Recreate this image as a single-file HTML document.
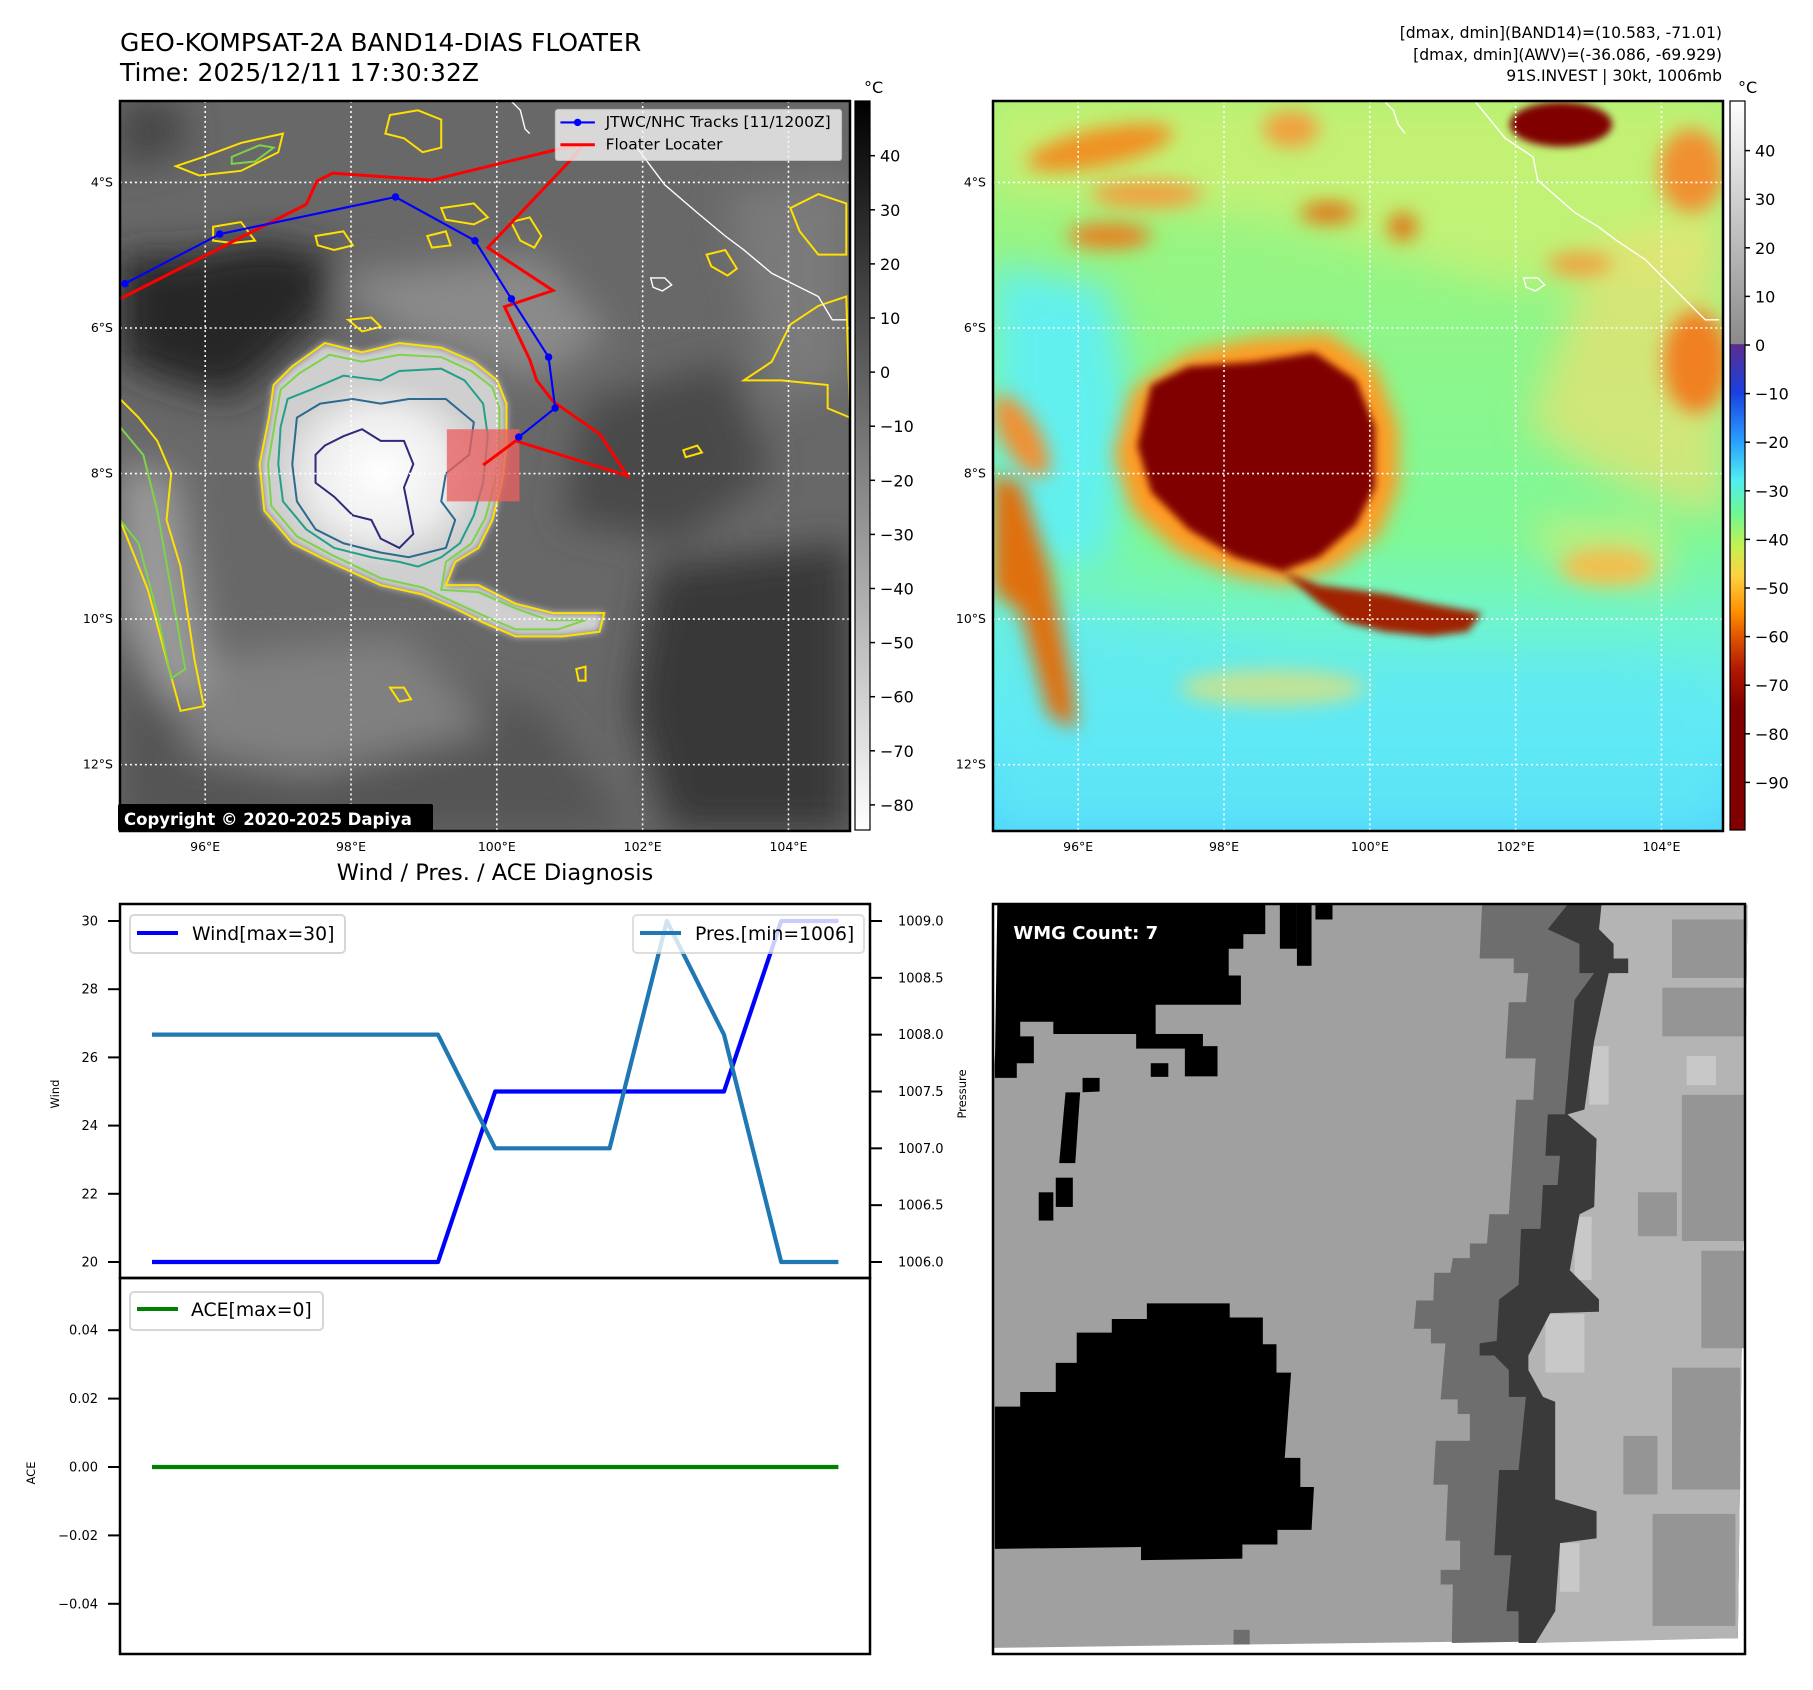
<!DOCTYPE html>
<html><head><meta charset="utf-8">
<style>
html,body{margin:0;padding:0;background:#fff;}
svg{display:block;font-family:"DejaVu Sans","Liberation Sans",sans-serif;}
</style></head>
<body>
<svg id="fig" width="1813" height="1690" viewBox="0 0 1813 1690" xmlns="http://www.w3.org/2000/svg">
<defs>
  <filter id="blur8" x="-20%" y="-20%" width="140%" height="140%"><feGaussianBlur stdDeviation="8"/></filter>
  <filter id="blur20" x="-30%" y="-30%" width="160%" height="160%"><feGaussianBlur stdDeviation="20"/></filter>
  <filter id="blur40" x="-40%" y="-40%" width="180%" height="180%"><feGaussianBlur stdDeviation="40"/></filter>
  <clipPath id="clipMap"><rect x="0" y="0" width="1568" height="1568"/></clipPath>
  <radialGradient id="stormGrad" cx="0.5" cy="0.5" r="0.5">
    <stop offset="0" stop-color="#ffffff"/><stop offset="0.6" stop-color="#eeeeee"/><stop offset="1" stop-color="#cfcfcf"/>
  </radialGradient>
  <linearGradient id="cb1" x1="0" y1="0" x2="0" y2="1">
    <stop offset="0" stop-color="#000"/><stop offset="1" stop-color="#fff"/>
  </linearGradient>
  <linearGradient id="cb2" x1="0" y1="0" x2="0" y2="1">
    <stop offset="0" stop-color="#ffffff"/><stop offset="0.333" stop-color="#8a8a8a"/>
    <stop offset="0.334" stop-color="#5a2d8e"/><stop offset="0.4" stop-color="#1a40e0"/>
    <stop offset="0.467" stop-color="#2aa0ff"/><stop offset="0.52" stop-color="#50eef0"/>
    <stop offset="0.567" stop-color="#70f890"/><stop offset="0.613" stop-color="#c8f050"/>
    <stop offset="0.653" stop-color="#ffd040"/><stop offset="0.7" stop-color="#ff9000"/>
    <stop offset="0.733" stop-color="#e05800"/><stop offset="0.78" stop-color="#b01800"/>
    <stop offset="0.833" stop-color="#800000"/><stop offset="1" stop-color="#800000"/>
  </linearGradient>
  <linearGradient id="rmBase" x1="0" y1="0" x2="0" y2="1">
    <stop offset="0" stop-color="#a8f278"/><stop offset="0.3" stop-color="#90f688"/>
    <stop offset="0.6" stop-color="#7ef898"/><stop offset="0.72" stop-color="#6ef4d0"/>
    <stop offset="0.85" stop-color="#62ecf6"/><stop offset="1" stop-color="#50d2ff"/>
  </linearGradient>
</defs>

<text x="120" y="51" font-size="25">GEO-KOMPSAT-2A BAND14-DIAS FLOATER</text>
<text x="120" y="81" font-size="25">Time: 2025/12/11 17:30:32Z</text>
<g font-size="15.6" text-anchor="end">
  <text x="1722" y="38">[dmax, dmin](BAND14)=(10.583, -71.01)</text>
  <text x="1722" y="60">[dmax, dmin](AWV)=(-36.086, -69.929)</text>
  <text x="1722" y="81">91S.INVEST | 30kt, 1006mb</text>
</g>

<!-- ============ LEFT MAP ============ -->
<g transform="translate(120,101) scale(0.46556)">
 <g clip-path="url(#clipMap)">
  <rect x="0" y="0" width="1568" height="1568" fill="#686868"/>
  <g filter="url(#blur40)">
    <polygon fill="#262626" points="0,330 150,330 320,300 470,340 430,470 330,560 240,640 100,600 0,560"/>
    <polygon fill="#383838" points="1150,1000 1568,950 1568,1568 1180,1568 1100,1300"/>
    <polygon fill="#444" points="0,0 120,0 150,100 0,150"/>
    <polygon fill="#4a4a4a" points="1000,650 1300,560 1400,800 1200,950 950,900"/>
    <polygon fill="#555" points="0,1150 500,1200 900,1300 1100,1568 0,1568"/>
    <polygon fill="#8a8a8a" points="450,380 900,330 1050,500 900,600 600,500"/>
    <polygon fill="#808080" points="100,1200 600,1150 800,1350 400,1450 150,1400"/>
    <polygon fill="#7a7a7a" points="1300,200 1568,150 1568,600 1400,650"/>
    <polygon fill="#9a9a9a" points="0,780 120,800 200,1250 100,1300 0,1100"/>
  </g>
  <polygon fill="#cfcfcf" filter="url(#blur8)" points="330,610 370,570 440,520 520,540 600,520 690,530 760,560 810,600 830,650 830,740 820,820 800,900 770,960 720,990 700,1040 770,1040 850,1080 930,1100 1040,1100 1030,1140 950,1150 850,1150 780,1120 720,1090 650,1060 560,1040 450,990 370,950 310,880 300,780 320,680"/>
  <ellipse cx="560" cy="800" rx="225" ry="200" fill="url(#stormGrad)" filter="url(#blur8)"/>
  <g fill="none" stroke-width="4.3">
    <polygon stroke="#ffe000" points="330,610 370,570 440,520 520,540 600,520 690,530 760,560 810,600 830,650 830,740 820,820 800,900 770,960 720,990 700,1040 770,1040 850,1080 930,1100 1040,1100 1030,1140 950,1150 850,1150 780,1120 720,1090 650,1060 560,1040 450,990 370,950 310,880 300,780 320,680"/>
    <polygon stroke="#7ed34a" points="345,620 385,585 450,545 520,560 600,545 690,550 755,580 800,615 815,660 815,740 805,820 785,895 755,950 700,990 690,1050 770,1055 850,1090 920,1115 1000,1115 940,1135 850,1135 780,1105 715,1075 650,1045 560,1025 455,975 380,935 325,870 318,780 333,690"/>
    <polygon stroke="#22a08a" points="360,640 410,620 480,590 560,600 600,580 690,575 740,600 780,650 790,720 780,820 760,890 730,950 690,980 640,1000 600,990 540,980 460,960 400,920 350,860 340,780 345,700"/>
    <polygon stroke="#2c6a8e" points="380,680 430,650 500,640 560,650 620,640 700,640 760,690 750,760 700,800 690,860 720,900 700,960 620,980 560,970 480,950 420,920 380,860 370,780"/>
    <polygon stroke="#2d2a7a" points="420,760 440,740 480,720 520,705 560,730 610,730 630,780 610,830 620,880 630,930 600,960 560,940 540,900 500,890 460,850 420,820"/>
    <polygon stroke="#ffe000" points="0,640 40,680 80,730 110,800 100,900 130,1000 160,1200 180,1300 130,1310 100,1200 60,1050 20,950 0,900"/>
    <polygon stroke="#7ed34a" points="0,700 50,760 80,880 110,1050 140,1220 110,1240 80,1100 40,950 0,900"/>
    <polygon stroke="#ffe000" points="1340,600 1400,560 1440,480 1500,440 1560,420 1568,680 1520,660 1520,610 1420,600"/>
    <polygon stroke="#ffe000" points="180,120 260,90 350,70 340,110 260,150 170,160 120,140"/>
    <polygon stroke="#7ed34a" points="240,120 300,95 330,100 290,130 240,135"/>
    <polygon stroke="#ffe000" points="580,30 640,20 690,40 690,100 650,110 610,80 570,70"/>
    <polygon stroke="#ffe000" points="840,260 880,250 905,290 890,315 860,300"/>
    <polygon stroke="#ffe000" points="690,230 760,220 790,250 760,265 700,255"/>
    <polygon stroke="#ffe000" points="1260,330 1300,320 1325,360 1305,375 1270,355"/>
    <polygon stroke="#ffe000" points="420,290 480,280 500,310 460,320 425,310"/>
    <polygon stroke="#ffe000" points="660,290 700,280 710,310 670,315"/>
    <polygon stroke="#ffe000" points="200,270 260,260 290,300 240,305 200,300"/>
    <polygon stroke="#ffe000" points="1440,230 1500,200 1560,220 1560,330 1500,330 1460,280"/>
    <polygon stroke="#ffe000" points="1210,750 1240,740 1250,755 1215,765"/>
    <polygon stroke="#ffe000" points="580,1260 610,1260 625,1285 600,1290"/>
    <polygon stroke="#ffe000" points="980,1220 1000,1215 1000,1245 985,1245"/>
    <polygon stroke="#ffe000" points="490,470 540,465 560,485 520,495"/>
  </g>
  <polyline fill="none" stroke="#fff" stroke-width="3" points="1110,100 1170,180 1240,240 1300,290 1340,320 1400,370 1440,390 1500,420 1530,470 1560,470"/>
  <polyline fill="none" stroke="#fff" stroke-width="3" points="840,0 860,20 870,60 880,70"/>
  <polygon fill="none" stroke="#fff" stroke-width="3" points="1140,380 1170,380 1185,395 1165,408 1145,400"/>
  <g id="gridL" stroke="#fff" stroke-width="3.4" stroke-dasharray="4.3,6.4"></g>
  <rect x="702" y="705" width="156" height="155" fill="#e86060" opacity="0.78"/>
  <polyline fill="none" stroke="#ff0000" stroke-width="6.4" points="0,425 400,222 423,172 457,155 670,170 935,105 995,95 965,130 790,315 930,407 826,442 880,555 895,600 930,645 1030,715 1090,805 850,730 780,782"/>
  <g id="trackL"></g>
  <g>
    <rect x="935" y="18" width="615" height="110" rx="6" fill="#f4f4f4" opacity="0.8" stroke="#d0d0d0" stroke-width="2"/>
    <line x1="946" y1="46" x2="1020" y2="46" stroke="#0000ff" stroke-width="4.5"/>
    <circle cx="983" cy="46" r="8" fill="#0000ff"/>
    <text x="1043" y="56" font-size="33.3">JTWC/NHC Tracks [11/1200Z]</text>
    <line x1="946" y1="94" x2="1020" y2="94" stroke="#ff0000" stroke-width="6.4"/>
    <text x="1043" y="104" font-size="33.3">Floater Locater</text>
  </g>
 </g>
</g>
<rect x="120" y="101" width="730" height="730" fill="none" stroke="#000" stroke-width="2.5"/>
<g>
  <rect x="118" y="804" width="315" height="27" rx="2" fill="#000"/>
  <text x="124" y="825" font-size="16.5" font-weight="bold" fill="#fff">Copyright © 2020-2025 Dapiya</text>
</g>

<!-- ============ RIGHT MAP ============ -->
<g transform="translate(993,101) scale(0.46556)">
 <g clip-path="url(#clipMap)">
  <rect x="0" y="0" width="1568" height="1568" fill="url(#rmBase)"/>
  <g filter="url(#blur40)">
    <polygon fill="#62f0ee" points="0,350 250,400 300,700 250,1000 0,1000"/>
    <polygon fill="#d8f070" opacity="0.6" points="0,0 1568,0 1568,350 1100,400 600,250 0,200"/>
    <polygon fill="#f0e070" opacity="0.7" points="1300,300 1568,250 1568,900 1300,800 1150,700"/>
    <polygon fill="#60e8f4" opacity="0.7" points="0,1050 700,1200 1400,1200 1568,1250 1568,1568 0,1568"/>
    <polygon fill="#e8e870" opacity="0.6" points="1150,900 1450,900 1450,1050 1200,1000"/>
  </g>
  <g filter="url(#blur20)">
    <ellipse cx="230" cy="100" rx="160" ry="40" fill="#f09020" transform="rotate(-12 230 100)"/>
    <ellipse cx="330" cy="200" rx="120" ry="30" fill="#f0a040"/>
    <ellipse cx="250" cy="290" rx="90" ry="28" fill="#e88020"/>
    <ellipse cx="720" cy="240" rx="60" ry="22" fill="#e07010"/>
    <ellipse cx="880" cy="270" rx="30" ry="30" fill="#e07010"/>
    <ellipse cx="640" cy="60" rx="60" ry="40" fill="#f0a040"/>
    <ellipse cx="1500" cy="150" rx="70" ry="90" fill="#f09030"/>
    <ellipse cx="1510" cy="560" rx="70" ry="110" fill="#f08020"/>
    <ellipse cx="1260" cy="350" rx="70" ry="25" fill="#f0a040"/>
    <polygon fill="#e07010" points="0,800 60,820 120,1000 170,1250 180,1350 120,1320 60,1100 0,1050"/>
    <ellipse cx="60" cy="720" rx="40" ry="100" fill="#f09030" transform="rotate(-30 60 720)"/>
    <ellipse cx="600" cy="1260" rx="200" ry="40" fill="#e8e070" opacity="0.7"/>
    <ellipse cx="1320" cy="1000" rx="100" ry="40" fill="#f0c050"/>
    <polygon fill="#ff9a20" points="300,620 420,540 560,510 720,500 820,570 870,700 870,830 830,930 740,1000 640,1040 520,1020 400,970 300,880 260,760"/>
  </g>
  <g filter="url(#blur8)">
    <polygon fill="#800000" points="340,610 420,570 560,560 690,540 780,600 820,700 820,830 780,910 700,980 620,1010 520,980 420,920 340,840 310,740"/>
    <polygon fill="#a02000" points="620,1010 700,1040 780,1050 850,1060 940,1080 1050,1100 1020,1140 940,1150 840,1140 760,1120 700,1080"/>
    <ellipse cx="1220" cy="50" rx="110" ry="48" fill="#800000"/>
  </g>
  <polyline fill="none" stroke="#fff" stroke-width="3" points="1035,0 1100,80 1160,120 1170,170 1250,240 1300,270 1340,300 1400,340 1440,380 1470,410 1500,440 1530,470 1560,470"/>
  <polyline fill="none" stroke="#fff" stroke-width="3" points="840,0 860,20 870,50 885,70"/>
  <polygon fill="none" stroke="#fff" stroke-width="3" points="1140,380 1170,380 1185,395 1165,408 1145,400"/>
  <g id="gridR" stroke="#fff" stroke-width="3.4" stroke-dasharray="4.3,6.4"></g>
 </g>
</g>
<rect x="993" y="101" width="730" height="730" fill="none" stroke="#000" stroke-width="2.5"/>

<rect x="855" y="101" width="15" height="729" fill="url(#cb1)" stroke="#000" stroke-width="1.2"/>
<rect x="1730" y="101" width="15" height="729" fill="url(#cb2)" stroke="#000" stroke-width="1.2"/>
<text x="864" y="93" font-size="16">°C</text>
<text x="1738" y="93" font-size="16">°C</text>
<g id="cbTicks" font-size="16"></g>
<g id="mapTicks" font-size="12.5"></g>

<text x="495" y="880" font-size="22.5" text-anchor="middle">Wind / Pres. / ACE Diagnosis</text>
<g id="chart"></g>
<rect x="120" y="904" width="750" height="374" fill="none" stroke="#000" stroke-width="2.5"/>
<rect x="120" y="1278" width="750" height="376" fill="none" stroke="#000" stroke-width="2.5"/>
<text transform="translate(59,1094) rotate(-90)" font-size="11.5" text-anchor="middle">Wind</text>
<text transform="translate(35,1473) rotate(-90)" font-size="11.5" text-anchor="middle">ACE</text>
<text transform="translate(966,1094) rotate(-90)" font-size="11.5" text-anchor="middle">Pressure</text>

<g>
  <rect x="130" y="915" width="215" height="38" rx="4" fill="#fff" stroke="#d6d6d6" stroke-width="2"/>
  <line x1="137" y1="933" x2="178" y2="933" stroke="#0000ff" stroke-width="4"/>
  <text x="192" y="940" font-size="18.8">Wind[max=30]</text>
</g>
<g>
  <rect x="633" y="915" width="231" height="38" rx="4" fill="#fff" stroke="#d6d6d6" stroke-width="2" opacity="0.8"/>
  <line x1="640" y1="933" x2="681" y2="933" stroke="#1f77b4" stroke-width="4"/>
  <text x="695" y="940" font-size="18.8">Pres.[min=1006]</text>
</g>
<g>
  <rect x="130" y="1292" width="193" height="38" rx="4" fill="#fff" stroke="#d6d6d6" stroke-width="2"/>
  <line x1="137" y1="1309" x2="178" y2="1309" stroke="#008000" stroke-width="4"/>
  <text x="191" y="1316" font-size="18.8">ACE[max=0]</text>
</g>

<!-- ============ WMG PANEL ============ -->
<g transform="translate(990,900) scale(0.48718)">
  <rect x="8" y="8" width="1547" height="1547" fill="#fff"/>
  <polygon fill="#a0a0a0" points="40,10 1555,10 1535,1515 8,1535 8,340"/>
  <polygon fill="#6e6e6e" points="1010,10 1555,10 1535,1515 948,1525 950,1405 925,1405 925,1375 965,1375 965,1315 935,1315 940,1200 910,1200 915,1110 985,1110 985,1055 960,1055 960,1025 925,1025 935,910 905,910 905,880 870,880 875,822 910,822 912,765 945,765 950,735 985,735 985,705 1020,705 1025,645 1065,645 1080,410 1115,410 1120,325 1058,325 1065,210 1100,210 1105,150 1075,150 1075,120 1005,120"/>
  <polygon fill="#b4b4b4" points="1255,10 1555,10 1535,1515 1120,1525 1160,1460 1170,1320 1245,1310 1245,1255 1160,1230 1160,1030 1135,1020 1105,965 1105,935 1150,848 1250,845 1250,820 1190,760 1210,645 1240,630 1245,490 1215,465 1185,440 1220,430 1240,290 1270,150 1280,90 1250,60"/>
  <g fill="#959595">
    <rect x="1400" y="40" width="150" height="120"/><rect x="1380" y="180" width="170" height="100"/>
    <rect x="1420" y="400" width="130" height="300"/><rect x="1460" y="720" width="90" height="200"/>
    <rect x="1400" y="960" width="140" height="250"/><rect x="1360" y="1260" width="170" height="230"/>
    <rect x="1330" y="600" width="80" height="90"/><rect x="1300" y="1100" width="70" height="120"/>
  </g>
  <g fill="#c8c8c8">
    <rect x="1230" y="300" width="40" height="120"/><rect x="1200" y="650" width="35" height="130"/>
    <rect x="1140" y="850" width="80" height="120"/><rect x="1170" y="1320" width="40" height="100"/>
    <rect x="1430" y="320" width="60" height="60"/>
  </g>
  <polygon fill="#3a3a3a" points="1185,10 1255,10 1250,60 1280,90 1280,120 1310,120 1310,150 1270,150 1240,290 1220,430 1185,440 1215,465 1245,490 1240,630 1210,645 1190,760 1220,790 1250,820 1250,845 1150,848 1105,935 1105,965 1135,1020 1160,1030 1160,1230 1245,1255 1245,1310 1170,1320 1160,1460 1120,1525 1085,1525 1085,1460 1060,1460 1070,1345 1035,1345 1045,1170 1085,1170 1100,1020 1065,1020 1065,965 1035,935 1005,935 1005,910 1040,905 1045,820 1085,790 1090,675 1130,675 1135,585 1165,585 1170,525 1140,525 1145,440 1180,440 1200,205 1240,150 1210,150 1210,90 1145,60"/>
  <polygon fill="#000" points="15,10 565,10 565,70 520,70 520,100 490,100 490,155 515,155 515,215 340,215 340,275 130,275 130,250 62,250 62,280 90,280 90,335 55,335 55,365 10,365 10,340"/>
  <g fill="#000">
    <rect x="595" y="10" width="35" height="90"/><rect x="630" y="10" width="30" height="125"/><rect x="668" y="10" width="35" height="30"/>
    <rect x="300" y="275" width="137" height="30"/><rect x="400" y="300" width="67" height="62"/><rect x="330" y="335" width="36" height="28"/>
    <polygon points="155,395 190,395 190,365 225,365 225,393 185,395 175,540 142,540"/>
    <rect x="135" y="570" width="35" height="60"/><rect x="100" y="600" width="30" height="58"/>
  </g>
  <polygon fill="#000" points="10,1040 62,1040 62,1010 135,1010 135,950 178,950 178,888 250,888 250,860 322,860 322,828 492,828 492,857 560,857 560,912 588,912 588,970 618,970 605,1145 637,1145 637,1205 665,1205 660,1293 590,1293 590,1323 518,1323 518,1352 310,1355 310,1328 10,1332"/>
  <rect x="500" y="1498" width="33" height="30" fill="#6e6e6e"/>
  <rect x="35" y="20" width="330" height="80" rx="8" fill="#000"/>
  <text x="48" y="80" font-size="37" font-weight="bold" fill="#fff">WMG Count: 7</text>
</g>
<rect x="993" y="904" width="752" height="750" fill="none" stroke="#000" stroke-width="2.5"/>

<script>
const timeIndex = [0,1,2,3,4,5,6,7,8,9,10,11,12];
const windValues = [20,20,20,20,20,20,25,25,25,25,25,30,30];
const pressureValues = [1008,1008,1008,1008,1008,1008,1007,1007,1007,1009,1008,1006,1006];
const aceValues = [0,0,0,0,0,0,0,0,0,0,0,0,0];
const windTicks = [20,22,24,26,28,30];
const pressureTicks = [1006.0,1006.5,1007.0,1007.5,1008.0,1008.5,1009.0];
const aceTicks = [-0.04,-0.02,0.00,0.02,0.04];
const irColorbarTicks = [40,30,20,10,0,-10,-20,-30,-40,-50,-60,-70,-80];
const awvColorbarTicks = [40,30,20,10,0,-10,-20,-30,-40,-50,-60,-70,-80,-90];
const lonTicks = [96,98,100,102,104];
const latTicks = [4,6,8,10,12];
const trackLon = [94.90,96.20,98.61,99.70,100.20,100.71,100.80,100.30];
const trackLat = [5.39,4.71,4.20,4.80,5.60,6.40,7.10,7.50];

const NS='http://www.w3.org/2000/svg';
function mk(tag, attrs, parent){const e=document.createElementNS(NS,tag);for(const k in attrs)e.setAttribute(k,attrs[k]);parent.appendChild(e);return e;}
const fmtMinus = s => String(s).replace('-','\u2212');

const xT = i => 152 + i*57.2;
const yWind = v => 1262 - (v-20)*34.1;
const yPres = v => 1262 - (v-1006)*113.67;
const yAce = v => 1467 - v*3420;
const mapX = lon => 183 + (lon-96)*156.6;
const mapY = lat => 175 + (lat-4)*156.3;

const chart=document.getElementById('chart');
windTicks.forEach(v=>{
  const t=mk('line',{x1:108,x2:120,y1:yWind(v),y2:yWind(v),stroke:'#000','stroke-width':2},chart);
  
  
  const l=mk('text',{x:98,y:yWind(v)+4.5,'font-size':13,'text-anchor':'end'},chart);
  l.textContent=String(v);
  
  
});
pressureTicks.forEach(v=>{
  const t=mk('line',{x1:870,x2:882,y1:yPres(v),y2:yPres(v),stroke:'#000','stroke-width':2},chart);
  
  
  const l=mk('text',{x:898,y:yPres(v)+4.5,'font-size':13},chart);
  l.textContent=v.toFixed(1);
  
  
});
aceTicks.forEach(v=>{
  const t=mk('line',{x1:108,x2:120,y1:yAce(v),y2:yAce(v),stroke:'#000','stroke-width':2},chart);
  
  
  const l=mk('text',{x:98,y:yAce(v)+4.5,'font-size':13,'text-anchor':'end'},chart);
  l.textContent=fmtMinus(v.toFixed(2));
  
  
});
function series(vals, yf, color, name){
  const p=mk('polyline',{fill:'none',stroke:color,'stroke-width':4.2,'stroke-linejoin':'round',points:vals.map((v,i)=>xT(timeIndex[i])+','+yf(v)).join(' ')},chart);
  
  
}
series(windValues,yWind,'#0000ff','wind-line');
series(pressureValues,yPres,'#1f77b4','pressure-line');
series(aceValues,yAce,'#008000','ace-line');

['gridL','gridR'].forEach(id=>{
  const g=document.getElementById(id);
  lonTicks.forEach(lon=>{
    const l=mk('line',{x1:mapX(lon),x2:mapX(lon),y1:0,y2:1568},g);
    
    
  });
  latTicks.forEach(lat=>{
    const l=mk('line',{x1:0,x2:1568,y1:mapY(lat),y2:mapY(lat)},g);
    
    
  });
});
const tg=document.getElementById('trackL');
const tl=mk('polyline',{fill:'none',stroke:'#0000ff','stroke-width':4.5,points:trackLon.map((lon,i)=>mapX(lon)+','+mapY(trackLat[i])).join(' ')},tg);


trackLon.forEach((lon,i)=>{
  const c=mk('circle',{cx:mapX(lon),cy:mapY(trackLat[i]),r:8,fill:'#0000ff'},tg);
  
  
});
const mt=document.getElementById('mapTicks');
const S=0.46556;
[[120,101],[993,101]].forEach(([ox,oy])=>{
  lonTicks.forEach(lon=>{
    const t=mk('text',{x:ox+mapX(lon)*S,y:851,'text-anchor':'middle'},mt);
    t.textContent=lon+'°E';
    
    
  });
  latTicks.forEach(lat=>{
    const t=mk('text',{x:ox-7,y:oy+mapY(lat)*S+4,'text-anchor':'end'},mt);
    t.textContent=lat+'°S';
    
    
  });
});
const cb=document.getElementById('cbTicks');
irColorbarTicks.forEach(v=>{
  const y=155.7+(40-v)*5.41;
  mk('line',{x1:870,x2:875,y1:y,y2:y,stroke:'#000','stroke-width':1.5},cb);
  const t=mk('text',{x:880,y:y+6},cb);
  t.textContent=fmtMinus(v);
  
  
});
awvColorbarTicks.forEach(v=>{
  const y=345+(0-v)*4.86;
  mk('line',{x1:1745,x2:1750,y1:y,y2:y,stroke:'#000','stroke-width':1.5},cb);
  const t=mk('text',{x:1755,y:y+6},cb);
  t.textContent=fmtMinus(v);
  
  
});
</script>
</svg>
</body></html>
